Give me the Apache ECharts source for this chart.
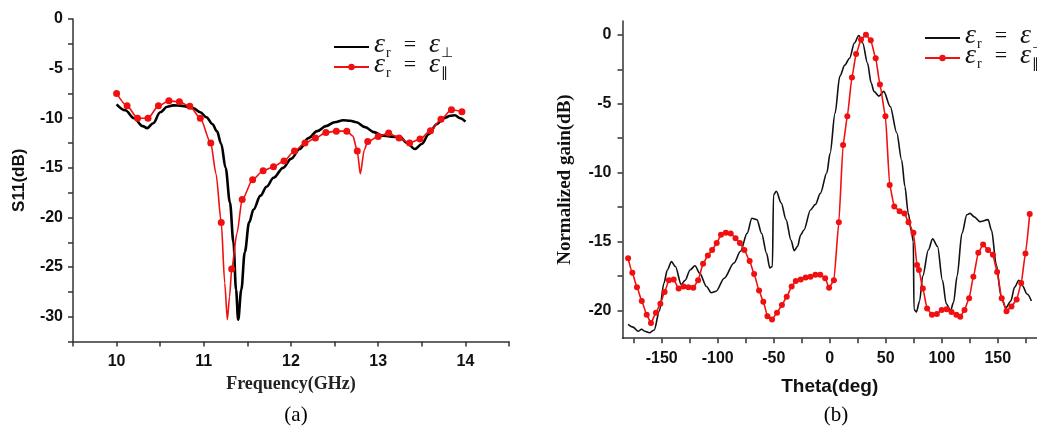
<!DOCTYPE html>
<html>
<head>
<meta charset="utf-8">
<script src="https://cdn.jsdelivr.net/npm/echarts@6.0.0/dist/echarts.min.js"></script>
<style>
  html, body { margin: 0; padding: 0; background: #fff; }
  #chart { width: 1037px; height: 433px; }
</style>
</head>
<body>
<div id="chart"></div>
<script>
// (a) S11 vs frequency
const freqPerp = [10.0, 10.1, 10.2, 10.3, 10.35, 10.42, 10.5, 10.58, 10.65, 10.75, 10.88, 10.96, 11.03, 11.1, 11.15, 11.2, 11.25, 11.3, 11.34, 11.37, 11.394, 11.43, 11.47, 11.52, 11.57, 11.65, 11.72, 11.8, 11.91, 12.0, 12.1, 12.2, 12.3, 12.4, 12.5, 12.6, 12.68, 12.75, 12.85, 12.95, 13.05, 13.15, 13.25, 13.33, 13.42, 13.5, 13.58, 13.67, 13.75, 13.83, 13.88, 13.94, 14.0]
const s11Perp = [-8.6, -9.2, -10.0, -10.8, -11.0, -10.5, -9.4, -8.85, -8.7, -8.75, -9.0, -9.4, -9.9, -10.6, -11.3, -12.6, -15.0, -18.5, -22.5, -27.3, -30.3, -27.3, -23.5, -20.5, -19.2, -17.8, -16.9, -16.0, -15.0, -14.1, -13.1, -12.0, -11.3, -10.8, -10.4, -10.2, -10.25, -10.4, -10.9, -11.4, -11.75, -11.85, -11.9, -12.5, -13.1, -12.6, -11.6, -10.6, -10.0, -9.75, -9.7, -10.0, -10.35]

// marked points of the parallel curve
const freqPar = [10.0, 10.12, 10.24, 10.36, 10.48, 10.6, 10.72, 10.84, 10.96, 11.08, 11.2, 11.32, 11.44, 11.56, 11.68, 11.8, 11.92, 12.04, 12.16, 12.28, 12.4, 12.52, 12.64, 12.76, 12.88, 13.0, 13.12, 13.24, 13.36, 13.48, 13.6, 13.72, 13.84, 13.96]
const s11Par = [-7.5, -8.75, -10.0, -10.0, -8.75, -8.25, -8.35, -8.8, -10.0, -12.5, -20.5, -25.2, -18.2, -16.2, -15.3, -14.9, -14.3, -13.3, -12.5, -12.0, -11.45, -11.3, -11.3, -13.3, -12.35, -11.85, -11.5, -12.0, -12.5, -12.1, -11.25, -10.1, -9.15, -9.35]
// unmarked points of the parallel curve (sharp dips)
const freqParDip = [11.14, 11.24, 11.27, 11.295, 11.38, 12.71, 12.795, 12.84]
const s11ParDip = [-15.6, -26.6, -30.3, -28.0, -21.6, -11.8, -15.6, -13.2]

const freqTicks = [9.5, 10, 10.5, 11, 11.5, 12, 12.5, 13, 13.5, 14, 14.5]
const freqLabels = [10, 11, 12, 13, 14]
const s11Ticks = [0, -2.5, -5, -7.5, -10, -12.5, -15, -17.5, -20, -22.5, -25, -27.5, -30, -32.5]
const s11Labels = [0, -5, -10, -15, -20, -25, -30]

// (b) normalized gain vs theta
const thetaPerp = [-180, -175.6, -171, -168, -165, -161, -156.7, -152, -148, -145, -141.3, -137.8, -132.6, -129, -124.7, -120.3, -116, -110, -105.8, -101.5, -94.2, -85.5, -79.7, -73.8, -69.5, -65, -60.8, -56.4, -53.5, -51.2, -50.2, -47.7, -43.3, -39, -34.6, -31.7, -28.8, -25.9, -23, -17.2, -12.8, -8.4, -2.6, 0.3, 4.7, 9, 13.4, 17.7, 22, 25.9, 29.4, 33.7, 37, 39.5, 43.9, 48.2, 54, 59.8, 64.2, 67.1, 70, 73, 74.6, 75.2, 77.3, 80.2, 83, 88, 91.8, 96.2, 100.6, 104, 107.8, 110.5, 113.7, 118, 122.4, 125.2, 129, 134, 141.3, 144.5, 148.5, 153, 157.2, 161.6, 165, 168.8, 172, 176.2, 180]
const gainPerp = [-21.0, -21.2, -21.5, -21.35, -21.5, -21.6, -21.4, -20.0, -18.0, -17.05, -16.45, -16.8, -18.1, -17.8, -17.05, -16.75, -17.3, -18.25, -18.7, -18.6, -17.65, -16.55, -15.7, -14.4, -13.3, -13.4, -14.4, -15.85, -16.9, -16.8, -11.6, -11.35, -12.2, -13.4, -14.9, -15.65, -15.35, -14.5, -14.15, -12.7, -12.3, -11.5, -10.0, -8.6, -5.7, -3.0, -2.2, -1.7, -0.6, -0.05, -0.6, -2.05, -3.5, -4.1, -4.45, -4.1, -5.2, -7.1, -9.1, -11.0, -12.9, -14.3, -15.0, -19.9, -20.1, -19.3, -17.5, -15.6, -14.8, -15.35, -17.8, -19.5, -20.0, -19.4, -17.5, -14.4, -13.05, -12.95, -13.2, -13.55, -13.4, -14.2, -16.6, -19.0, -19.8, -19.3, -18.3, -17.8, -18.2, -18.8, -19.3]

const thetaPar = [-180, -176.2, -172.1, -167.8, -163.4, -159.6, -155.2, -151.2, -147.4, -143.6, -139.3, -134.9, -130.6, -126.2, -121.8, -117.5, -113.1, -108.8, -105.0, -100.9, -97.1, -92.8, -88.4, -84.1, -80.2, -76.2, -71.5, -67.5, -63.1, -59.3, -55.6, -51.5, -47.1, -42.7, -38.4, -34.0, -30.3, -25.9, -21.5, -17.2, -12.8, -8.5, -4.1, -0.6, 3.7, 8.1, 11.9, 15.7, 19.8, 23.5, 27.9, 32.3, 36.6, 41.0, 44.8, 49.7, 53.5, 57.6, 62.4, 66.7, 70.3, 74.7, 77.9, 79.6, 83.1, 86.9, 91.2, 95.6, 99.9, 104.3, 108.7, 113.0, 116.5, 120.3, 124.4, 128.2, 132.6, 136.9, 141.3, 145.6, 149.4, 153.5, 157.8, 162.2, 166.8, 170.9, 174.7, 178.5]
const gainPar = [-16.2, -17.25, -18.3, -19.3, -20.3, -20.9, -20.15, -19.5, -18.65, -17.8, -17.75, -18.4, -18.25, -18.3, -18.35, -17.8, -16.6, -16.0, -15.6, -15.1, -14.5, -14.35, -14.4, -14.75, -15.1, -15.6, -16.4, -17.35, -18.55, -19.35, -20.4, -20.65, -20.15, -19.6, -19.0, -18.25, -17.85, -17.75, -17.6, -17.55, -17.4, -17.4, -17.65, -18.35, -17.8, -13.6, -8.0, -5.9, -3.1, -1.4, -0.35, 0.0, -0.4, -1.7, -3.6, -5.9, -10.9, -12.45, -12.8, -12.95, -13.6, -14.35, -16.7, -17.05, -18.4, -19.85, -20.3, -20.25, -19.95, -19.9, -20.1, -20.3, -20.45, -19.95, -19.1, -17.55, -15.8, -15.2, -15.6, -15.95, -17.2, -19.1, -20.05, -19.7, -19.2, -18.0, -15.85, -13.0]

const thetaTicks = [-175, -150, -125, -100, -75, -50, -25, 0, 25, 50, 75, 100, 125, 150, 175]
const thetaLabels = [-150, -100, -50, 0, 50, 100, 150]
const gainTicks = [0, -2.5, -5, -7.5, -10, -12.5, -15, -17.5, -20]
const gainLabels = [0, -5, -10, -15, -20]

const zip = (xs, ys) => xs.map((x, i) => [x, ys[i]])

// marked + unmarked points, sorted by frequency
const parData = zip(freqPar, s11Par)
  .concat(zip(freqParDip, s11ParDip).map(p => ({value: p, symbol: 'none'})))
  .sort((a, b) => (a.value || a)[0] - (b.value || b)[0])

const legendText = {
  a_perp: '{e|ε}{s|r}{q|=}{e|ε}{s|⊥}',
  a_par: '{e|ε}{s|r}{q|=}{e|ε}{s|∥}',
  b_perp: '{e|ε}{s|r}{q|=}{e|ε}{s|⊥}',
  b_par: '{e|ε}{s|r}{q|=}{e|ε}{s|∥}'
}

const legendRich = {
  e: {fontFamily: 'Liberation Serif', fontStyle: 'italic', fontSize: 28, lineHeight: 20, padding: [0, 0, 4, 0], color: '#111'},
  s: {fontFamily: 'Liberation Serif', fontSize: 14, lineHeight: 12, padding: [12, 0, 0, 1], color: '#111'},
  q: {fontFamily: 'Liberation Serif', fontSize: 22, lineHeight: 20, padding: [0, 13, 4, 13], color: '#111'}
}

const boldSans = {fontFamily: 'Liberation Sans', fontWeight: 'bold', color: '#111'}
const axisLineStyle = {color: '#333', width: 1.5}
const hideSymbol = {opacity: 0}

// one legend box per row so the row spacing matches the figure
const legendRow = (item, left, top) => ({
  data: [item], left, top, itemWidth: 35, itemHeight: 8,
  formatter: name => legendText[name], textStyle: {rich: legendRich}
})

const chart = echarts.init(document.getElementById('chart'), null, {renderer: 'canvas'})
chart.setOption({
  animation: false,
  backgroundColor: '#fff',
  title: [
    {text: '(a)', left: 291, top: 400, textAlign: 'center',
      textStyle: {fontFamily: 'Liberation Serif', fontWeight: 'normal', fontSize: 21, color: '#000'}},
    {text: '(b)', left: 831, top: 400, textAlign: 'center',
      textStyle: {fontFamily: 'Liberation Serif', fontWeight: 'normal', fontSize: 21, color: '#000'}}
  ],
  legend: [
    legendRow({name: 'a_perp', itemStyle: hideSymbol}, 328, 26),
    legendRow('a_par', 328, 46),
    legendRow({name: 'b_perp', itemStyle: hideSymbol}, 919, 17),
    legendRow('b_par', 919, 37)
  ],
  grid: [
    {left: 73, top: 19, width: 436, height: 322.5},
    {left: 622.5, top: 21, width: 424.3, height: 317.2}
  ],
  xAxis: [
    {
      gridIndex: 0, type: 'value', min: 9.5, max: 14.5,
      name: 'Frequency(GHz)', nameLocation: 'middle', nameGap: 34,
      nameTextStyle: {fontFamily: 'Liberation Serif', fontWeight: 'bold', fontSize: 18, color: '#222'},
      axisLine: {onZero: false, lineStyle: axisLineStyle},
      axisTick: {customValues: freqTicks, length: 5, lineStyle: axisLineStyle},
      axisLabel: {customValues: freqLabels, margin: 12, fontSize: 16, ...boldSans},
      splitLine: {show: false}
    },
    {
      gridIndex: 1, type: 'value', min: -185, max: 185,
      name: 'Theta(deg)', nameLocation: 'middle', nameGap: 39,
      nameTextStyle: {fontFamily: 'Liberation Sans', fontWeight: 'bold', fontSize: 19, color: '#111'},
      axisLine: {onZero: false, lineStyle: axisLineStyle},
      axisTick: {customValues: thetaTicks, length: 5, lineStyle: axisLineStyle},
      axisLabel: {customValues: thetaLabels, margin: 12, fontSize: 16, ...boldSans},
      splitLine: {show: false}
    }
  ],
  yAxis: [
    {
      gridIndex: 0, type: 'value', min: -32.5, max: 0,
      name: 'S11(dB)', nameLocation: 'middle', nameGap: 45, nameRotate: 90,
      nameTextStyle: {fontFamily: 'Liberation Sans', fontWeight: 'bold', fontSize: 17, color: '#111'},
      axisLine: {show: true, onZero: false, lineStyle: axisLineStyle},
      axisTick: {show: true, customValues: s11Ticks, length: 5, lineStyle: axisLineStyle},
      axisLabel: {customValues: s11Labels, margin: 10, fontSize: 16, ...boldSans},
      splitLine: {show: false}
    },
    {
      gridIndex: 1, type: 'value', min: -22, max: 1,
      name: 'Normalized gain(dB)', nameLocation: 'middle', nameGap: 48, nameRotate: 90,
      nameTextStyle: {fontFamily: 'Liberation Serif', fontWeight: 'bold', fontSize: 19, color: '#111'},
      axisLine: {show: true, onZero: false, lineStyle: axisLineStyle},
      axisTick: {show: true, customValues: gainTicks, length: 5, lineStyle: axisLineStyle},
      axisLabel: {customValues: gainLabels, margin: 11, fontSize: 16, ...boldSans},
      splitLine: {show: false}
    }
  ],
  series: [
    {
      name: 'a_perp', type: 'line', xAxisIndex: 0, yAxisIndex: 0,
      data: zip(freqPerp, s11Perp), symbol: 'none', smooth: 0.35, smoothMonotone: 'x',
      lineStyle: {color: '#000', width: 2.6}, itemStyle: {color: '#000'}
    },
    {
      name: 'a_par', type: 'line', xAxisIndex: 0, yAxisIndex: 0,
      data: parData, symbol: 'circle', symbolSize: 7, smooth: 0.25, smoothMonotone: 'x',
      lineStyle: {color: '#f01010', width: 1.6}, itemStyle: {color: '#f01010'}
    },
    {
      name: 'b_perp', type: 'line', xAxisIndex: 1, yAxisIndex: 1,
      data: zip(thetaPerp, gainPerp), symbol: 'none', smooth: 0.3, smoothMonotone: 'x',
      lineStyle: {color: '#111', width: 1.6}, itemStyle: {color: '#111'}
    },
    {
      name: 'b_par', type: 'line', xAxisIndex: 1, yAxisIndex: 1,
      data: zip(thetaPar, gainPar), symbol: 'circle', symbolSize: 6, smooth: 0.15, smoothMonotone: 'x',
      lineStyle: {color: '#f01010', width: 1.6}, itemStyle: {color: '#f01010'}
    }
  ]
})
</script>
</body>
</html>
